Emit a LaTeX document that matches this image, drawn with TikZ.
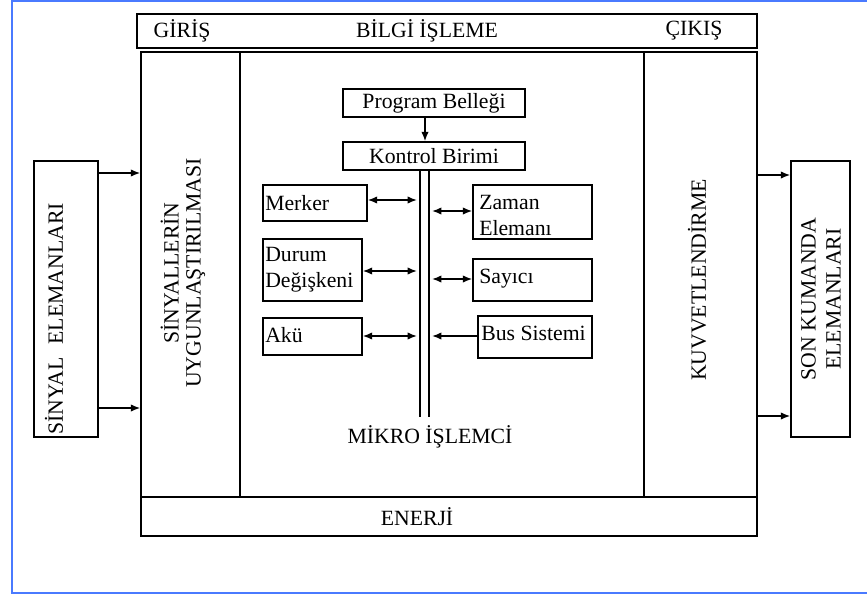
\documentclass[tikz,border=0pt]{standalone}
\usepackage{fontspec}
\setmainfont{Liberation Serif}
\usetikzlibrary{arrows.meta,fit}
\definecolor{frameblue}{RGB}{74,122,255}
\begin{document}
\begin{tikzpicture}[x=0.75pt,y=-0.75pt,
  pbox/.style={draw, line width=1.1pt, inner sep=0pt},
  txt/.style={font=\fontsize{16.3}{19.5}\selectfont, inner sep=0pt},
  rtxt/.style={font=\fontsize{16.3}{16.5}\selectfont, inner sep=0pt, rotate=90, align=center},
  arr/.style={line width=1.1pt, -{Latex[length=7pt,width=5.5pt]}},
  darr/.style={line width=1.1pt, {Latex[length=7pt,width=5.5pt]}-{Latex[length=7pt,width=5.5pt]}},
]
\useasboundingbox (0,0) rectangle (867,596);
\draw[frameblue, line width=2pt] (880,1) -- (12,1) -- (12,593) -- (880,593);

% top header
\node[pbox, line width=1.5pt, fit={(137,14) (757,48)}] (top) {};
\node[txt] (giris) at (182,31) {GİRİŞ};
\node[txt] (bilgi) at (427,31) {BİLGİ İŞLEME};
\node[txt] (cikis) at (694,31) {ÇIKIŞ};

% main panels
\node[pbox, fit={(141,52) (240,497)}] (uyg) {};
\node[pbox, fit={(240,52) (644,497)}] (isl) {};
\node[pbox, fit={(644,52) (757,497)}] (kuv) {};
\node[pbox, fit={(141,497) (757,536)}] (ener) {};
\node[txt] (enertxt) at (417,517) {ENERJİ};
\node[rtxt] (uygtxt) at (183,273) {SİNYALLERİN\\UYGUNLAŞTIRILMASI};
\node[rtxt] (kuvtxt) at (697,280) {KUVVETLENDİRME};

% outer boxes
\node[pbox, fit={(34,161) (98,437)}] (sin) {};
\node[rtxt] (sintxt) at (54,319) {SİNYAL\hspace{0.6em}ELEMANLARI};
\node[pbox, fit={(791,161) (850,437)}] (son) {};
\node[rtxt, font=\fontsize{16.3}{18.8}\selectfont] (sontxt) at (821,299) {SON KUMANDA\\ELEMANLARI};

\draw[arr] (sin.east |- 0,173) -- (uyg.west |- 0,173);
\draw[arr] (sin.east |- 0,408) -- (uyg.west |- 0,408);
\draw[arr] (kuv.east |- 0,175) -- (son.west |- 0,175);
\draw[arr] (kuv.east |- 0,416) -- (son.west |- 0,416);

% microprocessor
\node[pbox, fit={(343,89) (525,117)}] (prog) {};
\node[txt] (progtxt) at (434,103) {Program Belleği};
\node[pbox, fit={(343,142) (525,170)}] (kont) {};
\node[txt] (konttxt) at (434,156) {Kontrol Birimi};
\draw[arr] (prog.south -| 425,0) -- (kont.north -| 425,0);

\coordinate (busLt) at (420,170);
\coordinate (busLb) at (420,417);
\coordinate (busRt) at (429,170);
\coordinate (busRb) at (429,417);
\draw[line width=1.1pt] (busLt) -- (busLb);
\draw[line width=1.1pt] (busRt) -- (busRb);

\node[pbox, fit={(263,185) (367,221)}] (merk) {};
\node[txt, anchor=west] (merktxt) at (265,203) {Merker};
\node[pbox, fit={(263,239) (362,301)}] (dur) {};
\node[txt, anchor=west, align=left] (durtxt) at (265,270) {Durum\\Değişkeni};
\node[pbox, fit={(263,318) (362,355)}] (aku) {};
\node[txt, anchor=west] (akutxt) at (265,335) {Akü};

\node[pbox, fit={(473,185) (592,239)}] (zam) {};
\node[txt, anchor=west, align=left] (zamtxt) at (479,215) {Zaman\\Elemanı};
\node[pbox, fit={(473,259) (592,301)}] (say) {};
\node[txt, anchor=west] (saytxt) at (479,279) {Sayıcı};
\node[pbox, fit={(478,316) (592,358)}] (bus) {};
\node[txt, anchor=west] (bustxt) at (481,333) {Bus Sistemi};

\coordinate (bm) at (417,200);
\coordinate (bd) at (417,271);
\coordinate (ba) at (417,336);
\coordinate (bz) at (432,211);
\coordinate (bs) at (432,279);
\coordinate (bb) at (432,336);
\draw[darr] (merk.east |- bm) -- (bm);
\draw[darr] (dur.east |- bd) -- (bd);
\draw[darr] (aku.east |- ba) -- (ba);
\draw[darr] (bz) -- (zam.west |- bz);
\draw[darr] (bs) -- (say.west |- bs);
\draw[arr] (bus.west |- bb) -- (bb);

\node[txt] (mikro) at (430,437) {MİKRO İŞLEMCİ};
\end{tikzpicture}
\end{document}
